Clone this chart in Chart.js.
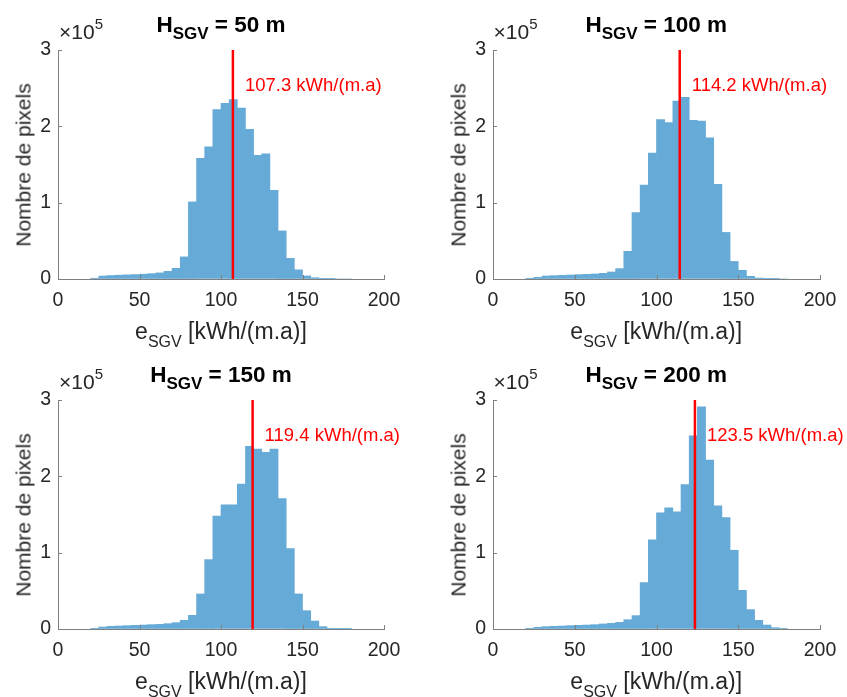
<!DOCTYPE html>
<html>
<head>
<meta charset="utf-8">
<script src="https://cdn.jsdelivr.net/npm/chart.js@4.4.0/dist/chart.umd.min.js"></script>
<style>
  html, body { margin: 0; padding: 0; background: #fff; width: 847px; height: 697px; overflow: hidden; }
  body { position: relative; font-family: "Liberation Sans", Arial, sans-serif; color: #262626; }
  canvas { position: absolute; }
  .lbl { position: absolute; white-space: nowrap; line-height: 1; }
  .title { font-weight: bold; font-size: 22.5px; color: #000; transform: translateX(-50%); }
  .title sub { font-size: 17px; line-height: 0; vertical-align: -7px; }
  .xlab { font-size: 23px; transform: translateX(-50%); }
  .xlab sub { font-size: 16px; line-height: 0; vertical-align: -8px; }
  .ylab { font-size: 21px; transform: translate(-50%, -50%) rotate(-90deg); }
  .expo { font-size: 21px; }
  .expo sup { font-size: 15px; line-height: 0; vertical-align: 10px; }
</style>
</head>
<body>
<script>
// histogram bins, 5 kWh/(m.a) wide
const binCenters = [22.5, 27.5, 32.5, 37.5, 42.5, 47.5, 52.5, 57.5, 62.5, 67.5, 72.5, 77.5,
  82.5, 87.5, 92.5, 97.5, 102.5, 107.5, 112.5, 117.5, 122.5, 127.5, 132.5, 137.5,
  142.5, 147.5, 152.5, 157.5, 162.5, 167.5, 172.5, 177.5];

const count50 = [1000, 3800, 4500, 5000, 5400, 5800, 6300, 7000, 8000, 10000, 14000, 29000,
  101000, 158000, 173000, 222000, 230000, 235000, 224000, 196000, 162000, 164000, 116000, 63000,
  27000, 12000, 4000, 1700, 900, 400, 0, 0];
const count100 = [900, 2200, 3900, 4400, 4800, 5200, 5700, 6100, 6600, 7400, 9200, 13600,
  36300, 87000, 123000, 165000, 209000, 205000, 233000, 238000, 208000, 207000, 185000, 124000,
  61000, 23000, 11400, 3500, 1300, 400, 400, 0];
const count150 = [900, 2600, 3500, 3900, 4400, 4800, 5200, 5700, 6100, 7000, 8300, 11400,
  17900, 45900, 90900, 147800, 162700, 162700, 189800, 239200, 235700, 231300, 235700, 171000,
  105400, 45900, 24000, 10500, 3100, 900, 400, 400];
const count200 = [900, 2200, 3100, 3500, 3900, 4400, 4800, 5200, 5700, 6600, 7400, 8700,
  12200, 17500, 60800, 116700, 152200, 158700, 153500, 189300, 253200, 291200, 221300, 161300,
  146000, 103200, 50700, 25400, 11400, 5200, 1700, 400];

const heights = [50, 100, 150, 200];
const means = [107.3, 114.2, 119.4, 123.5];
const counts = [count50, count100, count150, count200];
const meanLabelY = 253000;

// plot area boxes in page pixels
const boxes = [
  { l: 58, t: 50, w: 326 },
  { l: 492.5, t: 50, w: 327.5 },
  { l: 58, t: 400, w: 326 },
  { l: 492.5, t: 400, w: 327.5 }
];
const AXW = 58, PADT = 50, AREAH = 229, XAXH = 45, EXTRA = 70;
const axisColor = "#7f7f7f";
const tickColor = "#262626";
const font = "'Liberation Sans', Arial, sans-serif";

const inwardTicks = {
  id: "inwardTicks",
  afterDatasetsDraw(chart) {
    const ctx = chart.ctx, xs = chart.scales.x, ys = chart.scales.y;
    const a = chart.chartArea;
    ctx.save();
    ctx.strokeStyle = axisColor;
    ctx.lineWidth = 1;
    ctx.beginPath();
    xs.ticks.forEach(t => {
      const px = Math.round(xs.getPixelForValue(t.value)) + 0.5;
      ctx.moveTo(px, a.bottom); ctx.lineTo(px, a.bottom - 4);
    });
    ys.ticks.forEach(t => {
      const py = Math.round(ys.getPixelForValue(t.value)) + 0.5;
      ctx.moveTo(a.left, py); ctx.lineTo(a.left + 4, py);
    });
    ctx.stroke();
    ctx.restore();
  }
};

const meanLabel = {
  id: "meanLabel",
  afterDatasetsDraw(chart, args, opts) {
    const ctx = chart.ctx;
    const x = chart.scales.x.getPixelForValue(opts.value) + 12;
    const y = chart.scales.y.getPixelForValue(meanLabelY);
    ctx.save();
    ctx.fillStyle = "#ff0000";
    ctx.font = "18.5px " + font;
    ctx.textAlign = "left";
    ctx.textBaseline = "middle";
    ctx.fillText(opts.value.toFixed(1) + " kWh/(m.a)", x, y);
    ctx.restore();
  }
};

function addLabel(cls, html, left, top) {
  const d = document.createElement("div");
  d.className = "lbl " + cls;
  d.innerHTML = html;
  d.style.left = left + "px";
  d.style.top = top + "px";
  document.body.appendChild(d);
}

boxes.forEach((b, i) => {
  const cv = document.createElement("canvas");
  const W = AXW + b.w + EXTRA, H = PADT + AREAH + XAXH;
  cv.width = W; cv.height = H;
  cv.style.left = (b.l - AXW) + "px";
  cv.style.top = (b.t - PADT) + "px";
  document.body.appendChild(cv);

  new Chart(cv.getContext("2d"), {
    type: "bar",
    data: {
      datasets: [
        {
          type: "line",
          data: [{ x: means[i], y: 0 }, { x: means[i], y: 300000 }],
          borderColor: "#ff0000",
          borderWidth: 2.5,
          pointRadius: 0,
          order: 1
        },
        {
          data: binCenters.map((c, k) => ({ x: c, y: counts[i][k] })),
          backgroundColor: "#66aad7",
          borderWidth: 0,
          barPercentage: 1,
          categoryPercentage: 1,
          order: 2
        }
      ]
    },
    options: {
      responsive: false,
      animation: false,
      events: [],
      layout: { padding: { top: PADT, right: W - AXW - b.w, left: 0, bottom: 0 } },
      plugins: { legend: { display: false }, tooltip: { enabled: false }, meanLabel: { value: means[i] } },
      scales: {
        x: {
          type: "linear", min: 0, max: 200, offset: false,
          grid: { display: true, drawOnChartArea: false, drawTicks: false, offset: false },
          border: { display: true, color: axisColor, width: 1, z: 1 },
          ticks: { stepSize: 50, padding: 10, color: tickColor, font: { family: font, size: 19.5 }, maxRotation: 0 },
          afterFit: s => { s.height = XAXH; }
        },
        y: {
          min: 0, max: 300000,
          grid: { display: true, drawOnChartArea: false, drawTicks: false },
          border: { display: true, color: axisColor, width: 1, z: 1 },
          ticks: { stepSize: 100000, padding: 7, color: tickColor, font: { family: font, size: 19.5 },
            callback: v => String(v / 100000) },
          afterFit: s => { s.width = AXW; }
        }
      }
    },
    plugins: [inwardTicks, meanLabel]
  });

  const cx = b.l + b.w / 2;
  addLabel("title", "H<sub>SGV</sub> = " + heights[i] + " m", cx, b.t - 36);
  addLabel("xlab", "e<sub>SGV</sub> [kWh/(m.a)]", cx, b.t + AREAH + 41);
  addLabel("ylab", "Nombre de pixels", b.l - 35, b.t + AREAH / 2);
  addLabel("expo", "&times;10<sup>5</sup>", b.l + 1, b.t - 29);
});
</script>
</body>
</html>
